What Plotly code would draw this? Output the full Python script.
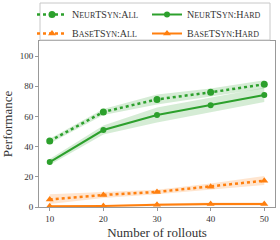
import plotly.graph_objects as go

rollouts = [10, 20, 30, 40, 50]

neur_all = [43.7, 63.0, 71.3, 76.0, 81.3]
neur_all_lo = [42.0, 61.0, 68.0, 73.5, 78.5]
neur_all_hi = [45.3, 65.0, 74.5, 78.5, 84.0]

neur_hard = [29.8, 51.0, 61.0, 67.5, 74.2]
neur_hard_lo = [27.8, 48.0, 56.0, 62.5, 69.5]
neur_hard_hi = [31.8, 54.0, 66.0, 72.5, 79.0]

base_all = [5.0, 8.0, 10.0, 13.5, 17.4]
base_all_lo = [2.0, 6.0, 8.5, 11.5, 14.5]
base_all_hi = [8.5, 10.0, 11.5, 15.5, 20.5]

base_hard = [0.5, 0.7, 1.5, 2.0, 2.0]
base_hard_lo = [0.0, 0.2, 0.7, 1.0, 1.0]
base_hard_hi = [1.0, 1.2, 2.3, 3.0, 3.0]

GREEN = "#2ca02c"
ORANGE = "#ff7f0e"
GREEN_FILL = "rgba(44,160,44,0.2)"
ORANGE_FILL = "rgba(255,127,14,0.2)"


def sc(word_parts):
    out = ""
    for t, big in word_parts:
        size = 10 if big else 8
        out += f"<span style='font-size:{size}px'>{t}</span>"
    return out


names = {
    "na": sc([("N", 1), ("EUR", 0), ("TS", 1), ("YN", 0), (":A", 1), ("LL", 0)]),
    "nh": sc([("N", 1), ("EUR", 0), ("TS", 1), ("YN", 0), (":H", 1), ("ARD", 0)]),
    "ba": sc([("B", 1), ("ASE", 0), ("TS", 1), ("YN", 0), (":A", 1), ("LL", 0)]),
    "bh": sc([("B", 1), ("ASE", 0), ("TS", 1), ("YN", 0), (":H", 1), ("ARD", 0)]),
}

fig = go.Figure()


def band(lo, hi, fill):
    fig.add_trace(go.Scatter(x=rollouts, y=hi, mode="lines", line=dict(width=0),
                             showlegend=False, hoverinfo="skip"))
    fig.add_trace(go.Scatter(x=rollouts, y=lo, mode="lines", line=dict(width=0),
                             fill="tonexty", fillcolor=fill, showlegend=False, hoverinfo="skip"))


band(neur_all_lo, neur_all_hi, GREEN_FILL)
band(neur_hard_lo, neur_hard_hi, GREEN_FILL)
band(base_all_lo, base_all_hi, ORANGE_FILL)
band(base_hard_lo, base_hard_hi, ORANGE_FILL)

fig.add_trace(go.Scatter(x=rollouts, y=neur_all, name=names["na"], mode="lines+markers",
                         line=dict(color=GREEN, width=2.5, dash="dot"),
                         marker=dict(symbol="circle", size=7, color=GREEN), legend="legend"))
fig.add_trace(go.Scatter(x=rollouts, y=base_all, name=names["ba"], mode="lines+markers",
                         line=dict(color=ORANGE, width=2.5, dash="dot"),
                         marker=dict(symbol="triangle-up", size=7, color=ORANGE), legend="legend"))
fig.add_trace(go.Scatter(x=rollouts, y=neur_hard, name=names["nh"], mode="lines+markers",
                         line=dict(color=GREEN, width=2),
                         marker=dict(symbol="circle", size=6, color=GREEN), legend="legend2"))
fig.add_trace(go.Scatter(x=rollouts, y=base_hard, name=names["bh"], mode="lines+markers",
                         line=dict(color=ORANGE, width=2),
                         marker=dict(symbol="triangle-up", size=7, color=ORANGE), legend="legend2"))

axis_common = dict(showline=True, mirror=True, linecolor="#999999", linewidth=1,
                   ticks="outside", tickcolor="#999999", ticklen=3, showgrid=False,
                   zeroline=False, tickfont=dict(size=9, color="#333333"))

leg_common = dict(orientation="v", xref="paper", yref="container",
                  xanchor="left", yanchor="top", traceorder="normal",
                  bgcolor="rgba(0,0,0,0)", borderwidth=0,
                  font=dict(size=10, color="#333333"), tracegroupgap=0)

fig.update_layout(
    width=280, height=240,
    margin=dict(l=39, r=5, t=41, b=33, autoexpand=False),
    paper_bgcolor="white", plot_bgcolor="white",
    font=dict(family="Liberation Serif", color="#333333"),
    xaxis=dict(range=[8, 52], tickvals=rollouts,
               title=dict(text="Number of rollouts", font=dict(size=13)),
               **axis_common),
    yaxis=dict(range=[0, 110], tickvals=[0, 20, 40, 60, 80, 100],
               title=dict(text="Performance", font=dict(size=13)),
               **axis_common),
    legend=dict(x=(32 - 39) / 236, y=1.0, **leg_common),
    legend2=dict(x=(147 - 39) / 236, y=1.0, **leg_common),
    shapes=[dict(type="rect", xref="paper", yref="paper",
                 x0=1 / 236, x1=231 / 236, y0=(207 - 40) / 166, y1=(207 - 3) / 166,
                 line=dict(color="#c8c8c8", width=1), fillcolor="rgba(0,0,0,0)")],
)

fig.write_html("out.html", config={"displayModeBar": False},
               post_script="document.body.style.margin='0px';")
